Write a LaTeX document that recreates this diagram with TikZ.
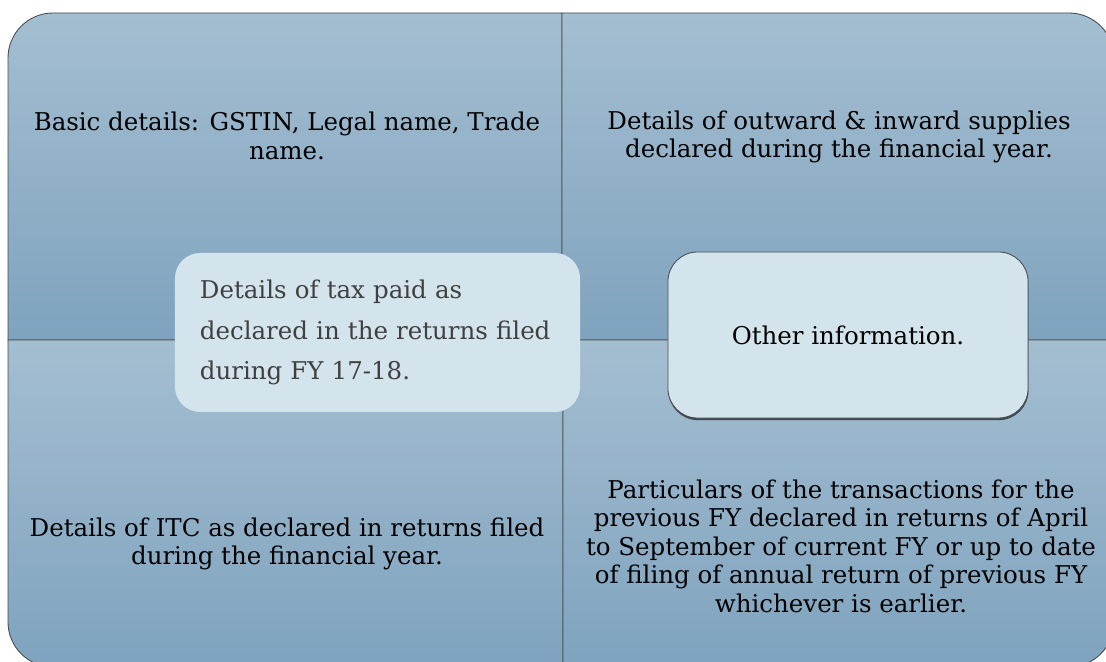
\documentclass[tikz,border=0pt]{standalone}
\usepackage{fontspec}
\setmainfont{DejaVu Serif}
\usetikzlibrary{shadows}
\definecolor{quadtop}{RGB}{164,190,209}
\definecolor{quadbot}{RGB}{127,163,190}
\definecolor{boxfill}{RGB}{211,228,237}
\definecolor{edgegray}{RGB}{70,74,78}
\definecolor{textgray}{RGB}{64,64,64}
\begin{document}
\begin{tikzpicture}[x=0.025cm, y=-0.025cm,
    quad/.style={draw=edgegray, line width=0.6pt, top color=quadtop, bottom color=quadbot},
    quadtext/.style={align=center, text=black, font=\fontsize{17.4}{20.3}\selectfont},
    taxbox/.style={fill=boxfill, rounded corners=18pt, minimum width=10.125cm, minimum height=3.975cm,
       inner xsep=0.625cm, text width=8.875cm, align=left, text=textgray, font=\fontsize{17.4}{29}\selectfont},
    otherbox/.style={fill=boxfill, draw=edgegray, line width=0.6pt, rounded corners=21pt,
       minimum width=9cm, minimum height=4.15cm, align=center, text=black, font=\fontsize{17.4}{20.3}\selectfont,
       drop shadow={shadow xshift=0.3pt, shadow yshift=-1.5pt, opacity=0.6, fill=black}}]
  \clip (0,0) rectangle (1106,662);
  % the four quadrants
  \path[quad] (8,340) [rounded corners=32pt] -- (8,13) -- (300,13) [sharp corners] -- (562,13) -- (562,340) -- cycle;
  \path[quad] (1114,340) [rounded corners=32pt] -- (1114,13) -- (800,13) [sharp corners] -- (562,13) -- (562,340) -- cycle;
  \path[quad] (8,340) [rounded corners=32pt] -- (8,667) -- (300,667) [sharp corners] -- (563,667) -- (563,340) -- cycle;
  \path[quad] (1114,340) [rounded corners=32pt] -- (1114,667) -- (800,667) [sharp corners] -- (563,667) -- (563,340) -- cycle;
  \node[quadtext] at (287,136) (basic) {Basic details: GSTIN, Legal name, Trade\\name.};
  \node[quadtext] at (839,137) (supplies) {Details of outward \& inward supplies\\declared during the financial year.};
  \node[quadtext] at (287,544) (itc) {Details of ITC as declared in returns filed\\during the financial year.};
  \node[quadtext] at (841,546) (prevfy) {Particulars of the transactions for the\\previous FY declared in returns of April\\to September of current FY or up to date\\of filing of annual return of previous FY\\whichever is earlier.};
  % boxes on top
  \node[taxbox] at (377.5,332.5) (taxpaid) {Details of tax paid as\\declared in the returns filed\\during FY 17-18.};
  \node[otherbox] at (848,335) (other) {Other information.};
\end{tikzpicture}
\end{document}
